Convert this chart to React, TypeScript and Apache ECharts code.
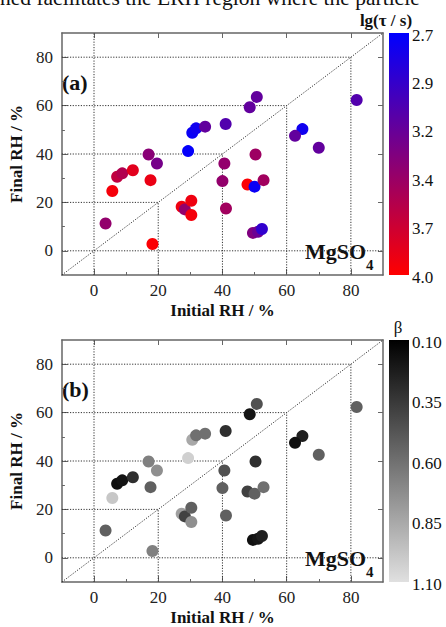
import React, { useEffect, useRef } from 'react';
import * as echarts from 'echarts';

// ---- data ----
const initialRH = [3.6, 5.7, 7.2, 8.8, 12.1, 17.0, 19.6, 17.6, 18.2, 27.3, 28.3, 30.3, 30.3, 29.3, 30.6, 31.8, 34.6, 41.0, 40.6, 40.0, 41.1, 50.7, 48.5, 81.8, 64.9, 62.6, 70.0, 50.3, 47.8, 50.0, 52.8, 49.5, 51.1, 52.3];
const finalRH = [11.3, 24.7, 30.6, 32.0, 33.3, 39.8, 36.1, 29.2, 2.8, 18.2, 17.1, 20.7, 14.8, 41.2, 48.8, 50.6, 51.3, 52.4, 36.1, 28.8, 17.5, 63.6, 59.3, 62.3, 50.3, 47.5, 42.6, 39.8, 27.4, 26.5, 29.2, 7.4, 7.9, 9.0];
const lgTau = [3.45, 3.95, 3.68, 3.6, 3.85, 3.4, 3.3, 3.9, 3.98, 3.92, 3.45, 3.92, 3.95, 2.72, 2.75, 2.78, 3.2, 3.12, 3.45, 3.45, 3.52, 3.2, 3.2, 3.12, 2.78, 3.2, 3.2, 3.5, 3.98, 2.75, 3.52, 3.35, 3.25, 2.95];
const beta = [0.53, 0.99, 0.17, 0.19, 0.31, 0.67, 0.74, 0.53, 0.67, 0.81, 0.39, 0.53, 0.74, 1.03, 0.85, 0.6, 0.6, 0.31, 0.46, 0.53, 0.53, 0.46, 0.19, 0.53, 0.24, 0.17, 0.53, 0.31, 0.39, 0.53, 0.6, 0.17, 0.2, 0.24];

const majorTicks = [0, 20, 40, 60, 80];
const minorTicks = [10, 30, 50, 70];
const AX_MIN = -10;
const AX_MAX = 90;

const tauTickLabels = ['2.7', '2.9', '3.2', '3.4', '3.7', '4.0'];
const betaTickLabels = ['0.10', '0.35', '0.60', '0.85', '1.10'];
const TAU_MIN = 2.7;
const TAU_MAX = 4.0;
const BETA_MIN = 0.1;
const BETA_MAX = 1.1;

const headerText = 'ned facilitates the ERH region where the particle';

// ---- style ----
const FONT = 'Liberation Serif';
const AXIS_COLOR = '#666';
const GRID_LEFT = 58;
const GRID_W = 325;
const GRID_H = 242;
const GRID_TOPS = [33, 340];
const BAR_X = 389;
const BAR_W = 20;

function txt(x: number, y: number, text: string, size: number, bold: boolean, align = 'left') {
  return {
    type: 'text', x, y,
    style: {
      text, fontFamily: FONT, fontSize: size, fontWeight: bold ? 'bold' : 'normal',
      fill: '#111', verticalAlign: 'middle', align,
    },
  };
}

function buildAxes(gi: number) {
  const baseLine = { show: true, onZero: false, lineStyle: { color: AXIS_COLOR, width: 1.5 } };
  const x = [
    {
      type: 'value', gridIndex: gi, position: 'bottom', min: AX_MIN, max: AX_MAX,
      name: 'Initial RH / %', nameLocation: 'middle', nameGap: 27,
      nameTextStyle: { fontFamily: FONT, fontWeight: 'bold', fontSize: 17, color: '#111' },
      axisLine: baseLine,
      axisTick: { show: true, inside: true, length: 6, customValues: majorTicks, lineStyle: { color: AXIS_COLOR } },
      axisLabel: { customValues: majorTicks, fontFamily: FONT, fontSize: 17, color: '#222', margin: 7 },
      splitLine: { show: false },
    },
    {
      type: 'value', gridIndex: gi, position: 'bottom', min: AX_MIN, max: AX_MAX,
      axisLine: { show: false, onZero: false },
      axisTick: { show: true, inside: true, length: 3, customValues: minorTicks, lineStyle: { color: AXIS_COLOR } },
      axisLabel: { show: false },
      splitLine: { show: false },
    },
    {
      type: 'value', gridIndex: gi, position: 'top', min: AX_MIN, max: AX_MAX,
      axisLine: baseLine,
      axisTick: { show: true, inside: true, length: 5, customValues: majorTicks, lineStyle: { color: AXIS_COLOR } },
      axisLabel: { show: false },
      splitLine: { show: false },
    },
  ];
  const y = [
    {
      type: 'value', gridIndex: gi, position: 'left', min: AX_MIN, max: AX_MAX,
      name: 'Final RH / %', nameLocation: 'middle', nameGap: 29,
      nameTextStyle: { fontFamily: FONT, fontWeight: 'bold', fontSize: 17, color: '#111' },
      axisLine: baseLine,
      axisTick: { show: true, inside: true, length: 6, customValues: majorTicks, lineStyle: { color: AXIS_COLOR } },
      axisLabel: { customValues: majorTicks, fontFamily: FONT, fontSize: 17, color: '#222', margin: 9 },
      splitLine: { show: false },
    },
    {
      type: 'value', gridIndex: gi, position: 'left', min: AX_MIN, max: AX_MAX,
      axisLine: { show: false, onZero: false },
      axisTick: { show: true, inside: true, length: 3, customValues: minorTicks, lineStyle: { color: AXIS_COLOR } },
      axisLabel: { show: false },
      splitLine: { show: false },
    },
    {
      type: 'value', gridIndex: gi, position: 'right', min: AX_MIN, max: AX_MAX,
      axisLine: baseLine,
      axisTick: { show: true, inside: true, length: 5, customValues: majorTicks, lineStyle: { color: AXIS_COLOR } },
      axisLabel: { show: false },
      splitLine: { show: false },
    },
  ];
  return { x, y };
}

function guideSeries(axisIdx: number) {
  const paths: number[][][] = [];
  majorTicks.filter((k) => k > 0).forEach((k) => {
    paths.push([[AX_MIN, k], [k, k], [k, AX_MIN]]);
  });
  paths.push([[0, AX_MIN], [0, AX_MAX]]);
  paths.push([[AX_MIN, 0], [AX_MAX, 0]]);
  paths.push([[AX_MIN, AX_MIN], [AX_MAX, AX_MAX]]);
  return paths.map((d) => ({
    type: 'line',
    xAxisIndex: axisIdx,
    yAxisIndex: axisIdx,
    data: d,
    symbol: 'none',
    silent: true,
    z: 1,
    lineStyle: { type: [1.2, 1.5], color: '#333', width: 1 },
  }));
}

function colorbarGraphics(top: number, colors: string[], labels: string[]) {
  const els: any[] = [];
  els.push({
    type: 'rect',
    shape: { x: BAR_X, y: top, width: BAR_W, height: GRID_H },
    style: {
      fill: {
        type: 'linear', x: 0, y: 0, x2: 0, y2: 1,
        colorStops: [{ offset: 0, color: colors[0] }, { offset: 1, color: colors[1] }],
      },
    },
  });
  labels.forEach((t, i) => {
    els.push(txt(BAR_X + 23, top + 2 + (i * GRID_H) / (labels.length - 1), t, 17, false));
  });
  return els;
}

function panelTexts(top: number, tag: string) {
  return [
    txt(62, top + 49, tag, 22, true),
    txt(305, top + 218, 'MgSO', 22, true),
    txt(366, top + 232, '4', 15, true),
  ];
}

export default function App() {
  const ref = useRef<HTMLDivElement>(null);

  useEffect(() => {
    document.body.style.margin = '0';
    if (!ref.current) return;
    const chart = echarts.init(ref.current, undefined, { renderer: 'svg' });

    const a0 = buildAxes(0);
    const a1 = buildAxes(1);

    const tauData = initialRH.map((x, i) => [x, finalRH[i], lgTau[i]]);
    const betaData = initialRH.map((x, i) => [x, finalRH[i], beta[i]]);

    const option: any = {
      animation: false,
      backgroundColor: '#fff',
      grid: GRID_TOPS.map((t) => ({ left: GRID_LEFT, top: t, width: GRID_W, height: GRID_H, containLabel: false })),
      xAxis: [...a0.x, ...a1.x],
      yAxis: [...a0.y, ...a1.y],
      visualMap: [
        {
          type: 'continuous', show: false, seriesIndex: 0, dimension: 2,
          min: TAU_MIN, max: TAU_MAX, inRange: { color: ['#0000ff', '#ff0000'] },
        },
        {
          type: 'continuous', show: false, seriesIndex: 1, dimension: 2,
          min: BETA_MIN, max: BETA_MAX, inRange: { color: ['#000000', '#e0e0e0'] },
        },
      ],
      series: [
        {
          type: 'scatter', xAxisIndex: 0, yAxisIndex: 0, data: tauData,
          symbol: 'circle', symbolSize: 12, z: 3, itemStyle: { opacity: 1 },
        },
        {
          type: 'scatter', xAxisIndex: 3, yAxisIndex: 3, data: betaData,
          symbol: 'circle', symbolSize: 12, z: 3, itemStyle: { opacity: 1 },
        },
        ...guideSeries(0),
        ...guideSeries(3),
      ],
      graphic: [
        txt(0, -2, headerText, 21.5, false),
        txt(386, 20, 'lg(τ / s)', 17, true, 'center'),
        txt(398, 327, 'β', 17, false, 'center'),
        ...colorbarGraphics(GRID_TOPS[0], ['#0000ff', '#ff0000'], tauTickLabels),
        ...colorbarGraphics(GRID_TOPS[1], ['#000000', '#e0e0e0'], betaTickLabels),
        ...panelTexts(GRID_TOPS[0], '(a)'),
        ...panelTexts(GRID_TOPS[1], '(b)'),
      ],
    };

    chart.setOption(option);
    return () => chart.dispose();
  }, []);

  return <div ref={ref} style={{ width: 446, height: 627 }} />;
}
